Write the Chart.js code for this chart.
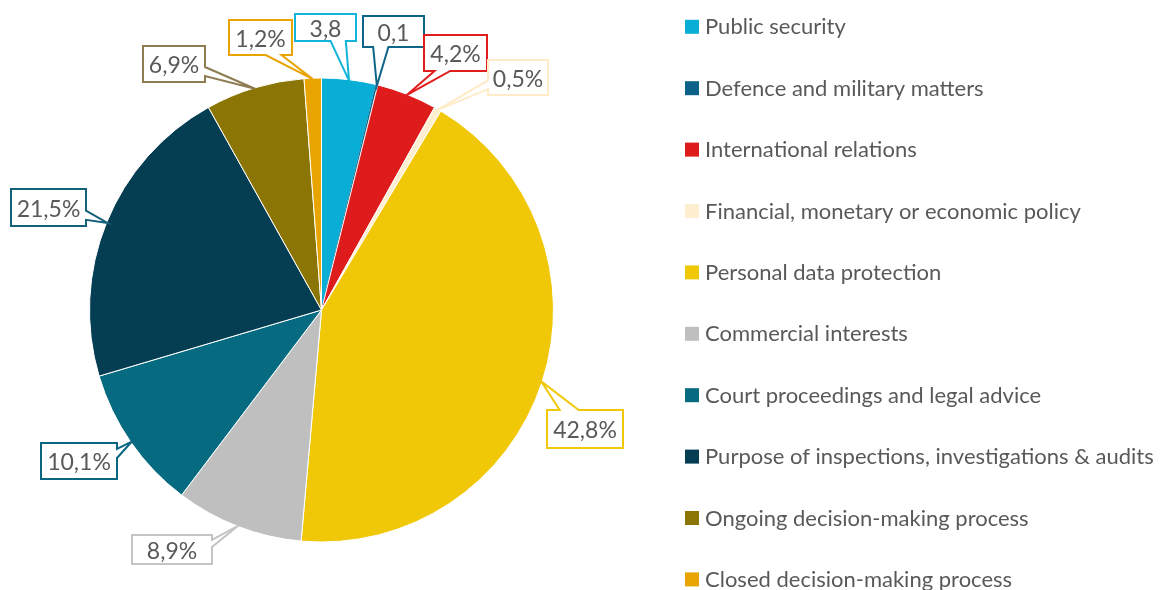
<!DOCTYPE html>
<html>
<head>
<meta charset="utf-8">
<script src="https://cdn.jsdelivr.net/npm/chart.js@4.4.1/dist/chart.umd.min.js"></script>
<style>
  html, body { margin: 0; padding: 0; background: #ffffff; }
  #wrap { width: 1161px; height: 590px; position: relative; overflow: hidden; }
  canvas { display: block; }
</style>
</head>
<body>
<div id="wrap"><canvas id="c" width="1161" height="590"></canvas></div>
<script>
// ---- data ----
const categories = [
  'Public security',
  'Defence and military matters',
  'International relations',
  'Financial, monetary or economic policy',
  'Personal data protection',
  'Commercial interests',
  'Court proceedings and legal advice',
  'Purpose of inspections, investigations & audits',
  'Ongoing decision-making process',
  'Closed decision-making process'
];
const shares = [3.8, 0.1, 4.2, 0.5, 42.8, 8.9, 10.1, 21.5, 6.9, 1.2];
const valueLabels = ['3,8', '0,1', '4,2%', '0,5%', '42,8%', '8,9%', '10,1%', '21,5%', '6,9%', '1,2%'];

// ---- styles ----
const sliceColors = ['#08AED6', '#0B6188', '#DF1C1C', '#FFEFD1', '#F1C808',
                     '#BFBFBF', '#066A80', '#053D52', '#8B7504', '#E8A400'];
const calloutBorder = ['#12B4DA', '#0F6587', '#E01E1E', '#FFEBC8', '#F1C808',
                       '#C4C4C4', '#0A6680', '#14607A', '#8E7C52', '#E8A400'];
// callout box layout [left, top, width, height]
const calloutBoxes = [
  [294, 13, 63, 29],
  [362, 15, 63, 33],
  [423, 34, 65, 38],
  [487, 59, 62, 37],
  [546, 409, 78, 40],
  [131, 534, 82, 31],
  [40, 442, 78, 38],
  [10, 188, 77, 39],
  [142, 45, 64, 38],
  [228, 19, 65, 37]
];
const LABEL_FONT = '23px Lato, "Open Sans", sans-serif';
const LEGEND_FONT = '22px Lato, "Open Sans", sans-serif';
const TEXT_COLOR = '#595959';

function calloutPath(ctx, x, y, w, h, tx, ty) {
  const cx = x + w / 2, cy = y + h / 2;
  const dx = tx - cx, dy = ty - cy;
  const horiz = Math.abs(dy) * w <= Math.abs(dx) * h;
  ctx.beginPath();
  ctx.moveTo(x, y);
  if (!horiz && dy < 0) {
    const a = dx < 0 ? x + w * 2 / 12 : x + w * 7 / 12;
    const b = dx < 0 ? x + w * 5 / 12 : x + w * 10 / 12;
    ctx.lineTo(a, y); ctx.lineTo(tx, ty); ctx.lineTo(b, y);
  }
  ctx.lineTo(x + w, y);
  if (horiz && dx > 0) {
    const a = dy < 0 ? y + h * 2 / 12 : y + h * 7 / 12;
    const b = dy < 0 ? y + h * 5 / 12 : y + h * 10 / 12;
    ctx.lineTo(x + w, a); ctx.lineTo(tx, ty); ctx.lineTo(x + w, b);
  }
  ctx.lineTo(x + w, y + h);
  if (!horiz && dy > 0) {
    const a = dx < 0 ? x + w * 5 / 12 : x + w * 10 / 12;
    const b = dx < 0 ? x + w * 2 / 12 : x + w * 7 / 12;
    ctx.lineTo(a, y + h); ctx.lineTo(tx, ty); ctx.lineTo(b, y + h);
  }
  ctx.lineTo(x, y + h);
  if (horiz && dx < 0) {
    const a = dy < 0 ? y + h * 5 / 12 : y + h * 10 / 12;
    const b = dy < 0 ? y + h * 2 / 12 : y + h * 7 / 12;
    ctx.lineTo(x, a); ctx.lineTo(tx, ty); ctx.lineTo(x, b);
  }
  ctx.closePath();
}

const calloutPlugin = {
  id: 'callouts',
  afterDatasetsDraw(chart) {
    const ctx = chart.ctx;
    const arcs = chart.getDatasetMeta(0).data;
    ctx.save();
    arcs.forEach((arc, i) => {
      const p = arc.getProps(['x', 'y', 'startAngle', 'endAngle', 'outerRadius'], true);
      const mid = (p.startAngle + p.endAngle) / 2;
      const r = p.outerRadius - 1;
      const tx = p.x + Math.cos(mid) * r;
      const ty = p.y + Math.sin(mid) * r;
      const [bx, by, bw, bh] = calloutBoxes[i];
      calloutPath(ctx, bx + 1, by + 1, bw - 2, bh - 2, tx, ty);
      ctx.fillStyle = '#ffffff';
      ctx.fill();
      ctx.lineWidth = 2;
      ctx.lineJoin = 'miter';
      ctx.strokeStyle = calloutBorder[i];
      ctx.stroke();
      ctx.fillStyle = TEXT_COLOR;
      ctx.font = LABEL_FONT;
      ctx.textAlign = 'center';
      ctx.textBaseline = 'alphabetic';
      ctx.fillText(valueLabels[i], bx + bw / 2, by + bh / 2 + 9);
    });
    ctx.restore();
  }
};

const legendPlugin = {
  id: 'sideLegend',
  afterDraw(chart) {
    const ctx = chart.ctx;
    ctx.save();
    ctx.font = LEGEND_FONT;
    ctx.textAlign = 'left';
    ctx.textBaseline = 'alphabetic';
    chart.data.labels.forEach((label, i) => {
      const cy = 26.8 + i * 61.4;
      ctx.fillStyle = chart.data.datasets[0].backgroundColor[i];
      ctx.fillRect(685, cy - 7, 14, 14);
      ctx.fillStyle = TEXT_COLOR;
      ctx.fillText(label, 705, cy + 7.5);
    });
    ctx.restore();
  }
};

new Chart(document.getElementById('c'), {
  type: 'pie',
  data: {
    labels: categories,
    datasets: [{
      data: shares,
      backgroundColor: sliceColors,
      borderColor: ['#ffffff', '#0B6188', '#ffffff', '#ffffff', '#ffffff',
                    '#ffffff', '#ffffff', '#ffffff', '#ffffff', '#ffffff'],
      borderWidth: 1
    }]
  },
  options: {
    responsive: false,
    animation: false,
    devicePixelRatio: 1,
    layout: { padding: { left: 89, right: 607, top: 77.5, bottom: 47.5 } },
    plugins: {
      legend: { display: false },
      tooltip: { enabled: false }
    },
    events: []
  },
  plugins: [calloutPlugin, legendPlugin]
});
</script>
</body>
</html>
